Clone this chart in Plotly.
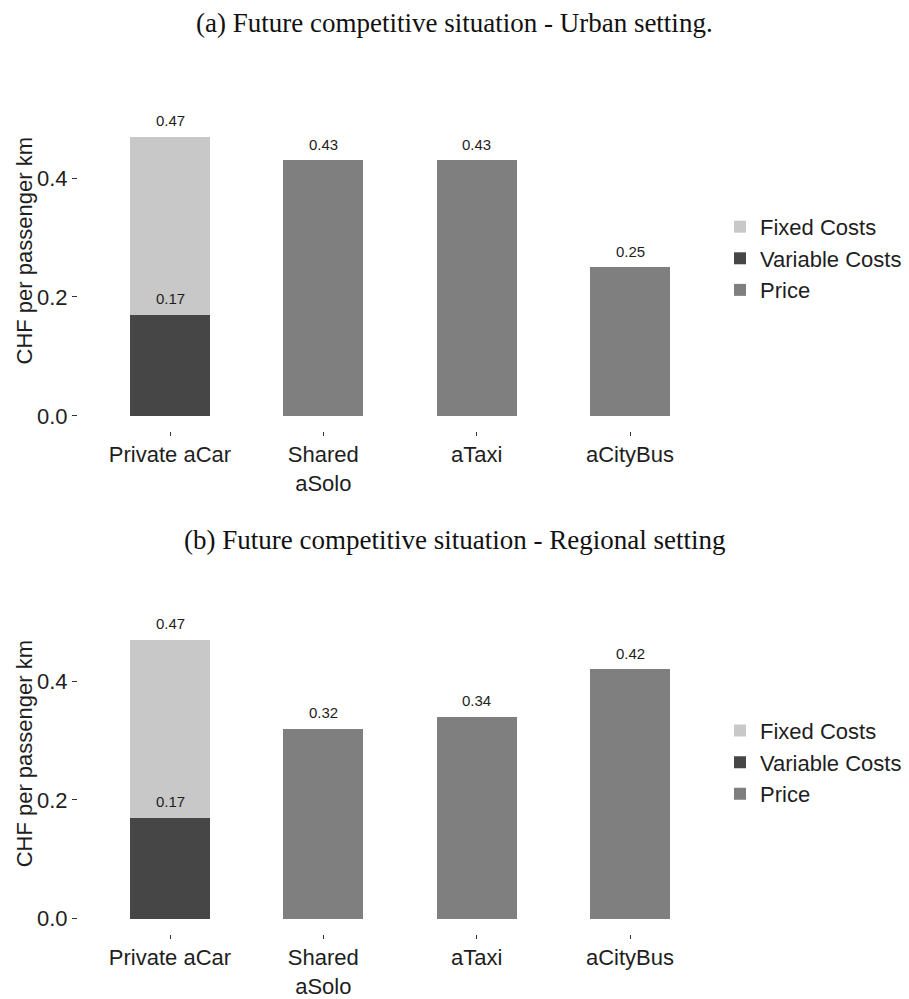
import plotly.graph_objects as go

# Modes shown on the category axis
modes = ["Private aCar", "Shared<br>aSolo", "aTaxi", "aCityBus"]
mode_pos = [1, 2, 3, 4]

# (a) Urban setting
urban_car_total = 0.47
urban_car_variable = 0.17
urban_price = [0.43, 0.43, 0.25]      # Shared aSolo, aTaxi, aCityBus

# (b) Regional setting
regional_car_total = 0.47
regional_car_variable = 0.17
regional_price = [0.32, 0.34, 0.42]   # Shared aSolo, aTaxi, aCityBus

panel_titles = ["(a) Future competitive situation - Urban setting.",
                "(b) Future competitive situation - Regional setting"]
y_ticks = [0.0, 0.2, 0.4]
y_ticktext = ["0.0", "0.2", "0.4"]

COL_FIXED = "#c8c8c8"
COL_VAR = "#464646"
COL_PRICE = "#7f7f7f"
TXT = "#1e1e1e"
SANS = "Liberation Sans, Arial, sans-serif"
SERIF = "Liberation Serif, Times New Roman, serif"

W, H = 909, 999
BAR_W = 0.52

fig = go.Figure()

panels = [
    dict(xa="x", ya="y", legend="legend",
         total=urban_car_total, var=urban_car_variable, price=urban_price),
    dict(xa="x2", ya="y2", legend="legend2",
         total=regional_car_total, var=regional_car_variable, price=regional_price),
]

annotations = []
for p in panels:
    fixed = round(p["total"] - p["var"], 2)
    fig.add_trace(go.Bar(x=[mode_pos[0]], y=[p["var"]], name="Variable Costs",
                         marker=dict(color=COL_VAR, line=dict(width=0)),
                         width=BAR_W, xaxis=p["xa"], yaxis=p["ya"],
                         legend=p["legend"], legendrank=2))
    fig.add_trace(go.Bar(x=[mode_pos[0]], y=[fixed], name="Fixed Costs",
                         marker=dict(color=COL_FIXED, line=dict(width=0)),
                         width=BAR_W, xaxis=p["xa"], yaxis=p["ya"],
                         legend=p["legend"], legendrank=1))
    fig.add_trace(go.Bar(x=mode_pos[1:], y=p["price"], name="Price",
                         marker=dict(color=COL_PRICE, line=dict(width=0)),
                         width=BAR_W, xaxis=p["xa"], yaxis=p["ya"],
                         legend=p["legend"], legendrank=3))

    # value labels above each bar segment
    label_pts = [(mode_pos[0], p["total"]), (mode_pos[0], p["var"])]
    label_pts += list(zip(mode_pos[1:], p["price"]))
    for xv, yv in label_pts:
        annotations.append(dict(x=xv, y=yv, xref=p["xa"], yref=p["ya"],
                                text=f"{yv:.2f}", showarrow=False,
                                yanchor="middle", yshift=16,
                                font=dict(family=SANS, size=15, color=TXT)))

# panel captions
for txt, ypix in zip(panel_titles, [23, 545]):
    annotations.append(dict(x=0.5, y=1 - ypix / H, xref="paper", yref="paper",
                            text=txt, showarrow=False, xanchor="center",
                            yanchor="middle",
                            font=dict(family=SERIF, size=27, color="#111111")))

# y-axis titles
for ypix in [254, 762]:
    annotations.append(dict(x=24 / W, y=1 - ypix / H, xref="paper", yref="paper",
                            text="CHF per passenger km", showarrow=False,
                            textangle=-90, xanchor="center", yanchor="middle",
                            font=dict(family=SANS, size=22, color=TXT)))

x_dom = [78 / W, 722 / W]
xaxis_common = dict(domain=x_dom, range=[0.4, 4.6], tickmode="array",
                    tickvals=mode_pos, ticktext=modes, ticks="outside",
                    ticklen=4, tickwidth=1, tickcolor="#333333",
                    showgrid=False, zeroline=False, showline=False,
                    tickfont=dict(family=SANS, size=22, color=TXT))
yaxis_common = dict(tickmode="array", tickvals=y_ticks, ticktext=y_ticktext,
                    ticks="outside", ticklen=5, tickwidth=1, tickcolor="#333333",
                    showgrid=False, zeroline=False, showline=False,
                    tickfont=dict(family=SANS, size=22, color=TXT))

legend_common = dict(font=dict(family=SANS, size=22, color=TXT),
                     bgcolor="rgba(0,0,0,0)", x=720 / W, xanchor="left",
                     yanchor="middle", traceorder="normal",
                     itemclick=False, itemdoubleclick=False)

fig.update_layout(
    width=W, height=H,
    margin=dict(l=0, r=0, t=0, b=0),
    paper_bgcolor="white", plot_bgcolor="white",
    barmode="stack", bargap=0,
    showlegend=True,
    xaxis=dict(**xaxis_common, anchor="y"),
    yaxis=dict(**yaxis_common, anchor="x", range=[-0.025, 0.55],
               domain=[1 - 435 / H, 1 - 90 / H]),
    xaxis2=dict(**xaxis_common, anchor="y2"),
    yaxis2=dict(**yaxis_common, anchor="x2", range=[-0.025, 0.55],
                domain=[1 - 943 / H, 1 - 598 / H]),
    legend=dict(**legend_common, y=1 - 261 / H),
    legend2=dict(**legend_common, y=1 - 770 / H),
    annotations=annotations,
)

fig.write_html("out.html")
